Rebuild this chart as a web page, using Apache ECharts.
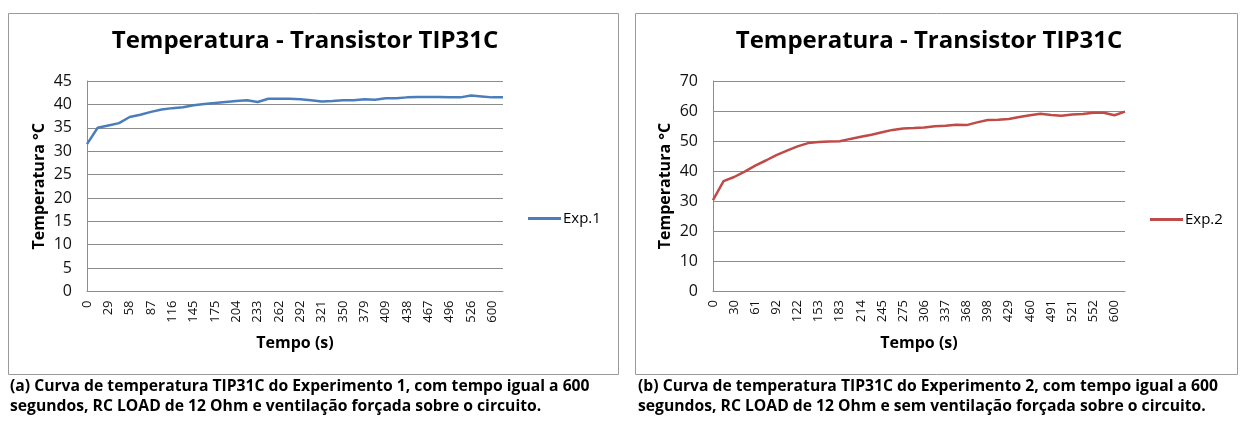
<!DOCTYPE html>
<html>
<head>
<meta charset="utf-8">
<script src="https://cdn.jsdelivr.net/npm/echarts@6/dist/echarts.min.js"></script>
<style>
html,body{margin:0;padding:0;background:#fff;}
#c{width:1242px;height:425px;}
</style>
</head>
<body>
<div id="c"></div>
<script>
// ---- Data ----
// Experiment 1: time categories (s); even positions carry the axis tick labels
var times1 = ['0','15','29','44','58','73','87','102','116','131','145','160','175','190','204','219','233','248','262','277',
              '292','307','321','336','350','365','379','394','409','424','438','453','467','482','496','511','526','563','600','612'];
var temp1 = [31.5,35.0,35.5,36.0,37.3,37.8,38.4,38.9,39.2,39.4,39.8,40.1,40.3,40.5,40.7,40.9,40.5,41.2,41.2,41.2,
             41.1,40.9,40.6,40.7,40.9,40.9,41.1,41.0,41.3,41.3,41.5,41.6,41.6,41.6,41.5,41.5,41.9,41.7,41.5,41.5];
// Experiment 2
var times2 = ['0','15','30','46','61','77','92','107','122','138','153','168','183','199','214','230','245','260','275','291',
              '306','322','337','352','368','383','398','414','429','445','460','475','491','506','521','537','552','576','600','615'];
var temp2 = [30.3,36.6,38.0,39.8,41.8,43.5,45.3,46.8,48.2,49.3,49.7,49.8,49.9,50.7,51.4,52.1,52.9,53.7,54.2,54.3,
             54.5,54.9,55.1,55.4,55.3,56.2,57.0,57.1,57.3,58.0,58.6,59.1,58.7,58.4,58.8,59.0,59.4,59.4,58.6,59.8];
var yTicks1 = {min:0, max:45, interval:5};
var yTicks2 = {min:0, max:70, interval:10};
var chartTitle = 'Temperatura - Transistor TIP31C';
var captionA = ['(a) Curva de temperatura TIP31C do Experimento 1, com tempo igual a 600',
                'segundos, RC LOAD de 12 Ohm e ventilação forçada sobre o circuito.'];
var captionB = ['(b) Curva de temperatura TIP31C do Experimento 2, com tempo igual a 600',
                'segundos, RC LOAD de 12 Ohm e sem ventilação forçada sobre o circuito.'];

var FONT = "'Open Sans', sans-serif";
var GRID_COLOR = '#8c8c8c';

function xAxisFor(gridIndex, cats, lastLabel){
  return {
    type:'category', gridIndex:gridIndex, data:cats, boundaryGap:false,
    axisLine:{show:true, lineStyle:{color:GRID_COLOR, width:1}},
    axisTick:{show:false},
    axisLabel:{
      rotate:90, fontFamily:FONT, fontSize:13, color:'#111', margin:9,
      interval:function(i){ return i % 2 === 0 && i <= lastLabel; }
    },
    name:'Tempo (s)', nameLocation:'middle', nameGap:44,
    nameTextStyle:{fontFamily:FONT, fontSize:16, fontWeight:'bold', color:'#000'}
  };
}
function yAxisFor(gridIndex, t){
  return {
    type:'value', gridIndex:gridIndex, min:t.min, max:t.max, interval:t.interval,
    axisLine:{show:true, lineStyle:{color:GRID_COLOR, width:1}},
    axisTick:{show:false},
    splitLine:{show:true, lineStyle:{color:GRID_COLOR, width:1}},
    axisLabel:{fontFamily:FONT, fontSize:16, color:'#111', margin:15},
    name:'Temperatura °C', nameLocation:'middle', nameRotate:90, nameGap:40,
    nameTextStyle:{fontFamily:FONT, fontSize:16, fontWeight:'bold', color:'#000'}
  };
}

function boxText(x, y, text, size, bold, align){
  return {type:'text', x:x, y:y, silent:true,
    style:{text:text, fontFamily:FONT, fontSize:size, fontWeight:bold?'bold':'normal', fill:'#000',
           align:align||'left', verticalAlign:'middle'}};
}

var chart = echarts.init(document.getElementById('c'), null, {renderer:'canvas'});
chart.setOption({
  backgroundColor:'#fff',
  animation:false,
  grid:[
    {left:87, top:81, width:416, height:210.5},
    {left:713, top:81, width:412, height:210}
  ],
  xAxis:[ xAxisFor(0, times1, 38), xAxisFor(1, times2, 38) ],
  yAxis:[ yAxisFor(0, yTicks1), yAxisFor(1, yTicks2) ],
  legend:[
    {data:['Exp.1'], left:528, top:211, padding:0, itemWidth:33, itemHeight:3, icon:'rect', itemGap:3,
     textStyle:{fontFamily:FONT, fontSize:15, color:'#000', padding:[0,0,0,-3]}},
    {data:['Exp.2'], left:1150, top:212, padding:0, itemWidth:33, itemHeight:3, icon:'rect', itemGap:3,
     textStyle:{fontFamily:FONT, fontSize:15, color:'#000', padding:[0,0,0,-3]}}
  ],
  series:[
    {name:'Exp.1', type:'line', xAxisIndex:0, yAxisIndex:0, data:temp1, showSymbol:false,
     lineStyle:{color:'#4a7ebb', width:2.5}, itemStyle:{color:'#4a7ebb'}},
    {name:'Exp.2', type:'line', xAxisIndex:1, yAxisIndex:1, data:temp2, showSymbol:false,
     lineStyle:{color:'#be4b48', width:2.5}, itemStyle:{color:'#be4b48'}}
  ],
  graphic:[
    {type:'rect', silent:true, z:-10, shape:{x:8.5, y:13.5, width:610, height:361},
     style:{fill:'#fff', stroke:'#9a9a9a', lineWidth:1}},
    {type:'rect', silent:true, z:-10, shape:{x:635.5, y:13.5, width:602, height:361},
     style:{fill:'#fff', stroke:'#9a9a9a', lineWidth:1}},
    boxText(305, 41, chartTitle, 24, true, 'center'),
    boxText(929, 41, chartTitle, 24, true, 'center'),
    boxText(10, 387, captionA[0], 15.7, true),
    boxText(10, 407, captionA[1], 15.7, true),
    boxText(638, 387, captionB[0], 15.7, true),
    boxText(638, 407, captionB[1], 15.7, true)
  ]
});
</script>
</body>
</html>
